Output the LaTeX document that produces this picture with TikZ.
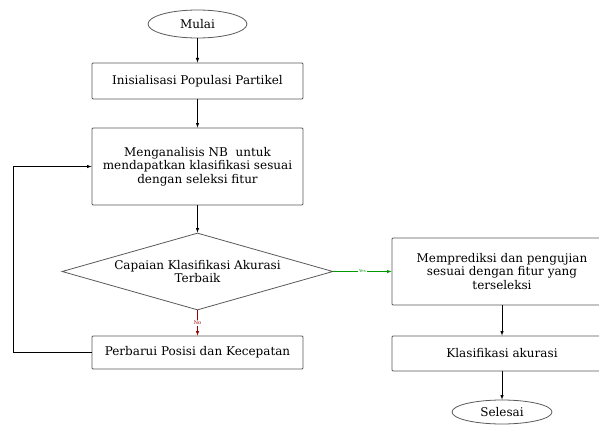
\documentclass[tikz,border=0pt]{standalone}
\usepackage{fontspec}
\setmainfont{DejaVu Serif}
\usetikzlibrary{shapes.geometric}

\begin{document}
\begin{tikzpicture}[x = 1pt, y = -1pt, thick, font = \fontsize{12}{13.5}\selectfont]
        \tikzstyle{box} = [shape = rectangle, draw = black!65, rounded corners = 1pt, align = center, inner sep = 2pt]
        \tikzstyle{term} = [shape = ellipse, draw = black!65, minimum width = 99pt, minimum height = 28pt, inner sep = 1pt]
        \tikzstyle{arrow} = [semithick, -latex]
        \useasboundingbox (0, 0) rectangle (599, 425);
        \clip (0, 0) rectangle (599, 425);
        \node[term] (F-0) at (197.5, 24) {Mulai};
        \node[box, minimum width = 211pt, minimum height = 36pt] (F-1) at (197.5, 81) {Inisialisasi Populasi Partikel};
        \node[box, minimum width = 211pt, minimum height = 77pt] (F-2) at (197.5, 166.5) {Menganalisis NB\ \ untuk\\mendapatkan klasifikasi sesuai\\dengan seleksi fitur};
        \node[shape = diamond, draw = black!65, aspect = 3.5, minimum width = 271pt, minimum height = 77pt, inner sep = 0pt, align = center] (F-3) at (197.5, 271.5) {Capaian Klasifikasi Akurasi\\Terbaik};
        \node[box, minimum width = 211pt, minimum height = 33pt] (F-4) at (197.5, 352.5) {Perbarui Posisi dan Kecepatan};
        \node[box, minimum width = 220pt, minimum height = 67pt] (G-1) at (502, 271.5) {Memprediksi dan pengujian\\sesuai dengan fitur yang\\terseleksi};
        \node[box, minimum width = 220pt, minimum height = 35pt] (G-2) at (502, 353.5) {Klasifikasi akurasi};
        \node[term, minimum width = 100pt, minimum height = 24pt] (G-3) at (502, 412) {Selesai};
        \draw[arrow] (F-0) -- (F-1);
        \draw[arrow] (F-1) -- (F-2);
        \draw[arrow] (F-2) -- (F-3);
        \draw[arrow, red!60!black] (F-3) -- node[fill = white, inner sep = 1pt, font = \fontsize{5}{6}\selectfont] {No} (F-4);
        \draw[arrow] (F-4.west) -- (13, 352.5) -- (13, 166.5) -- (F-2.west);
        \draw[arrow, green!60!black] (F-3) -- node[fill = white, inner sep = 1pt, font = \fontsize{4}{5}\selectfont] {Yes} (G-1);
        \draw[arrow] (G-1) -- (G-2);
        \draw[arrow] (G-2) -- (G-3);
      \end{tikzpicture}
\end{document}
